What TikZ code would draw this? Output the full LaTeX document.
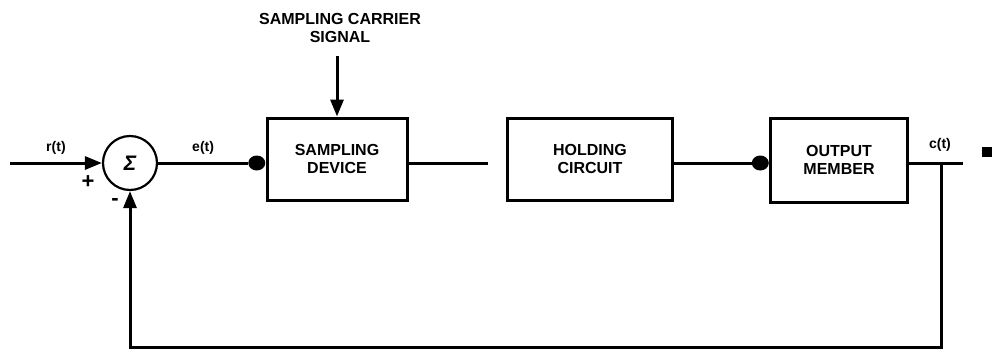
\documentclass[tikz,border=0pt]{standalone}
\usepackage{fontspec}
\setmainfont{Liberation Sans}
\usetikzlibrary{positioning, arrows.meta, shapes.geometric}

\begin{document}
\begin{tikzpicture}[x=1pt, y=-1pt,
    every node/.style={font=\fontsize{16}{18}\selectfont\bfseries},
    block/.style={rectangle, draw, line width=3pt, minimum width=140pt, minimum height=82pt, align=center, inner sep=0pt},
    dot/.style={ellipse, fill, minimum width=17pt, minimum height=15pt, inner sep=0pt},
    lbl/.style={font=\fontsize{14}{14}\selectfont\bfseries},
    sig/.style={line width=3pt},
    edge/.style={sig, -{Triangle[length=17pt, width=13pt]}}]

  \useasboundingbox (0,0) rectangle (993,349);

  % blocks
  \node[circle, draw, line width=2.2pt, minimum size=54pt, inner sep=0pt, font=\fontsize{21}{21}\selectfont\bfseries\itshape] (sum) at (130,163) {Σ};
  \node[block] (samp) at (337,159) {SAMPLING\\DEVICE};
  \node[block, minimum width=165pt] (hold) at (590,159) {HOLDING\\CIRCUIT};
  \node[block, minimum width=137pt, minimum height=84pt] (out) at (839,160) {OUTPUT\\MEMBER};
  \node[dot, anchor=east] (d1) at (samp.west |- 0,163) {};
  \node[dot, anchor=east] (d2) at (out.west |- 0,163) {};
  \node[align=center] (carrier) at (340,28) {SAMPLING CARRIER\\SIGNAL};
  \node[fill, minimum size=10pt, inner sep=0pt] (mark) at (987,152) {};

  % signal points
  \coordinate (in) at (10,163);
  \coordinate (sout) at (488,163);
  \coordinate (tap) at (941,163);
  \coordinate (cend) at (963,163);
  \coordinate (fb) at (941,347);

  % connectors
  \draw[edge] (in) -- node[above=4pt, lbl]{r(t)} (sum.west);
  \draw[sig] (sum.east) -- node[above=4pt, lbl]{e(t)} (d1);
  \draw[edge] (carrier.south -| samp.north) ++(0,10) -- (samp.north);
  \draw[sig] (samp.east |- sout) -- (sout);
  \draw[sig] (hold.east |- d2) -- (d2);
  \draw[sig] (out.east |- cend) -- (cend);
  \node[lbl] (clabel) at (940,145) {c(t)};
  \draw[edge] (tap) -- (fb) -- (sum.south |- fb) -- (sum.south);

  % signs
  \node[font=\fontsize{22}{22}\selectfont\bfseries] (plus) at (88,182) {+};
  \node[font=\fontsize{22}{22}\selectfont\bfseries] (minus) at (115,202) {-};
\end{tikzpicture}
\end{document}
